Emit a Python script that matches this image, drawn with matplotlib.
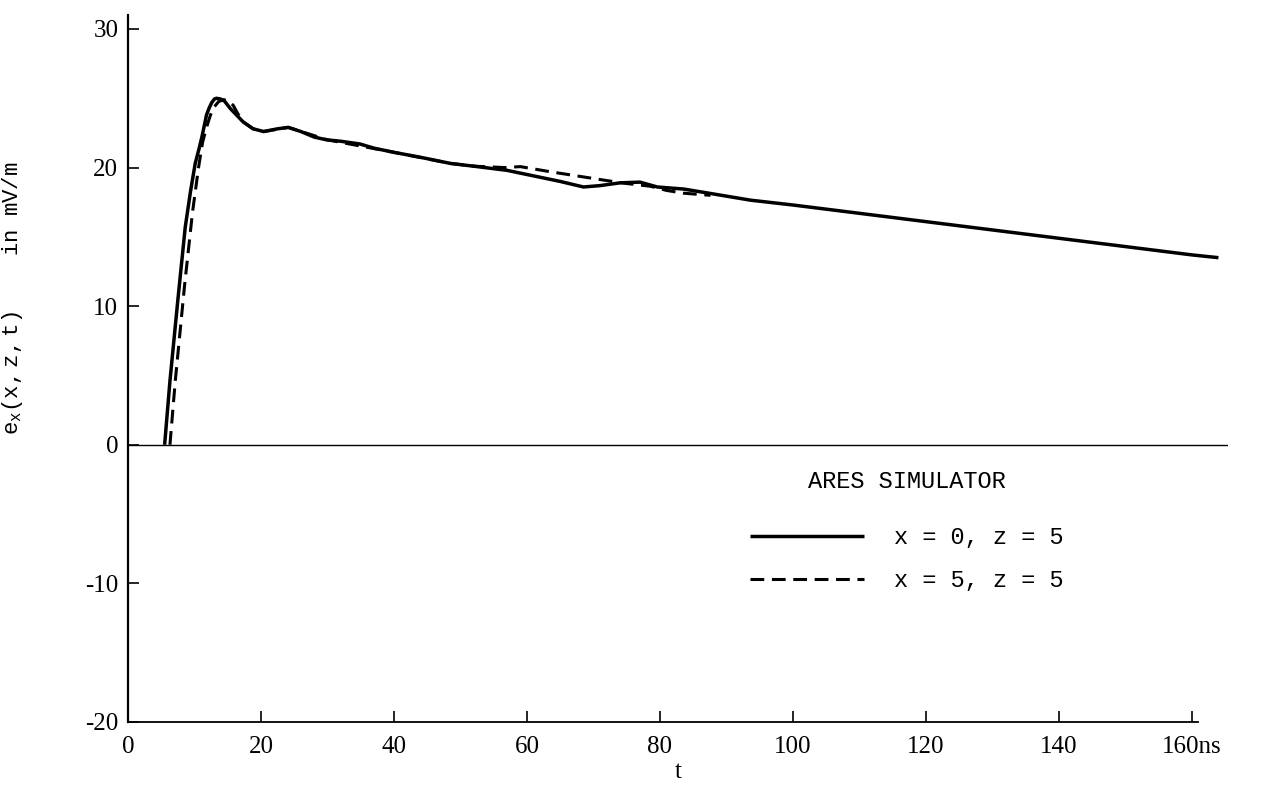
import matplotlib
matplotlib.use('Agg')
import matplotlib.pyplot as plt

# =============================================================================
# values (t in ns, e_x in mV/m)

t_solid = [5.5, 6.3, 7.5, 8.6, 9.4, 10.1, 10.7, 11.1, 11.5, 11.8, 12.2, 12.6,
           13.0, 13.3, 13.9, 14.5, 15.4, 16.3, 17.3, 18.8, 20.4, 22.5, 24.1,
           26, 28, 29.9, 32, 34.9, 37, 40, 43.9, 48.5, 52, 57, 61, 65, 68.5,
           71, 74, 77, 79.6, 83.6, 88, 93.6, 100, 110, 120, 130, 140, 150,
           160, 164]
e_solid = [0, 4.6, 10.5, 15.7, 18.3, 20.3, 21.4, 22.2, 23.1, 23.8, 24.3,
           24.7, 24.95, 25.0, 24.95, 24.8, 24.25, 23.8, 23.3, 22.8, 22.6,
           22.8, 22.9, 22.6, 22.2, 22.0, 21.9, 21.7, 21.4, 21.1, 20.75, 20.3,
           20.1, 19.8, 19.4, 19.0, 18.6, 18.7, 18.9, 18.95, 18.6, 18.45, 18.1,
           17.65, 17.3, 16.7, 16.1, 15.5, 14.9, 14.3, 13.7, 13.5]

t_dash = [6.3, 7.1, 8.5, 9.7, 10.6, 11.2, 11.8, 12.4, 13.0, 13.6, 14.3,
          15.0, 15.8, 16.5, 17.3, 18.8, 20.4, 24.1, 30, 40, 48.5, 52, 54.5,
          56.7, 59, 63.5, 67.5, 71.5, 75, 78.6, 81, 83.6, 87.6]
e_dash = [0, 4.6, 11.5, 16.8, 20.0, 21.8, 22.9, 23.8, 24.4, 24.75, 24.9,
          24.85, 24.5, 23.9, 23.3, 22.8, 22.6, 22.9, 22.0, 21.1, 20.3, 20.1,
          20.05, 20.0, 20.07, 19.7, 19.4, 19.1, 18.85, 18.65, 18.35, 18.15,
          18.0]

xticks = [0, 20, 40, 60, 80, 100, 120, 140, 160]
xlabels = ['0', '20', '40', '60', '80', '100', '120', '140', '160ns']
yticks = [-20, -10, 0, 10, 20, 30]
ylabels = ['-20', '-10', '0', '10', '20', '30']

legend_title = 'ARES SIMULATOR'
labels = ['x = 0, z = 5', 'x = 5, z = 5']

# =============================================================================


def plotBuilder():
    """Builds the plot"""
    fig = plt.figure(figsize=(12.78, 7.88), dpi=100)
    ax = fig.add_axes([0.1002, 0.0838, 0.861, 0.897])

    serif = 'Liberation Serif'
    mono = 'Liberation Mono'

    ax.plot(t_solid, e_solid, color='black', lw=2.5, solid_capstyle='butt',
            solid_joinstyle='round', label=labels[0])
    ax.plot(t_dash, e_dash, color='black', lw=2.2, dashes=(4.5, 2.5),
            label=labels[1])
    ax.axhline(0, color='black', lw=1.0)

    ax.set_xlim(0, 165.5)
    ax.set_ylim(-20, 31)

    for s in ['top', 'right']:
        ax.spines[s].set_visible(False)
    ax.spines['bottom'].set_bounds(0, 161)
    ax.spines['bottom'].set_linewidth(1.3)
    ax.spines['left'].set_linewidth(1.6)

    ax.set_xticks(xticks)
    ax.set_xticklabels(xlabels, fontfamily=serif, fontsize=18)
    ax.set_yticks(yticks)
    ax.set_yticklabels(ylabels, fontfamily=serif, fontsize=18)
    ax.tick_params(direction='in', length=8, width=1.2)
    ax.tick_params(axis='y', pad=7)
    ax.tick_params(axis='x', pad=10)

    ax.set_xlabel('t', fontfamily=serif, fontsize=18, labelpad=2)
    ax.set_ylabel(r'$\mathregular{e_x(x,z,t)}$    in mV/m',
                  fontfamily=mono, fontsize=16)
    ax.yaxis.set_label_coords(-0.094, 0.6)

    leg = ax.legend(title=legend_title, frameon=False, loc='center',
                    bbox_to_anchor=(0.708, 0.27), handlelength=4.8,
                    handletextpad=1.3, labelspacing=0.85,
                    prop={'family': mono, 'size': 17})
    leg.get_title().set_fontfamily(mono)
    leg.get_title().set_fontsize(17)
    leg._legend_box.sep = 24

    plt.savefig('out.png')


# =============================================================================


def main():
    plotBuilder()

# =============================================================================


if __name__ == '__main__':
    main()
